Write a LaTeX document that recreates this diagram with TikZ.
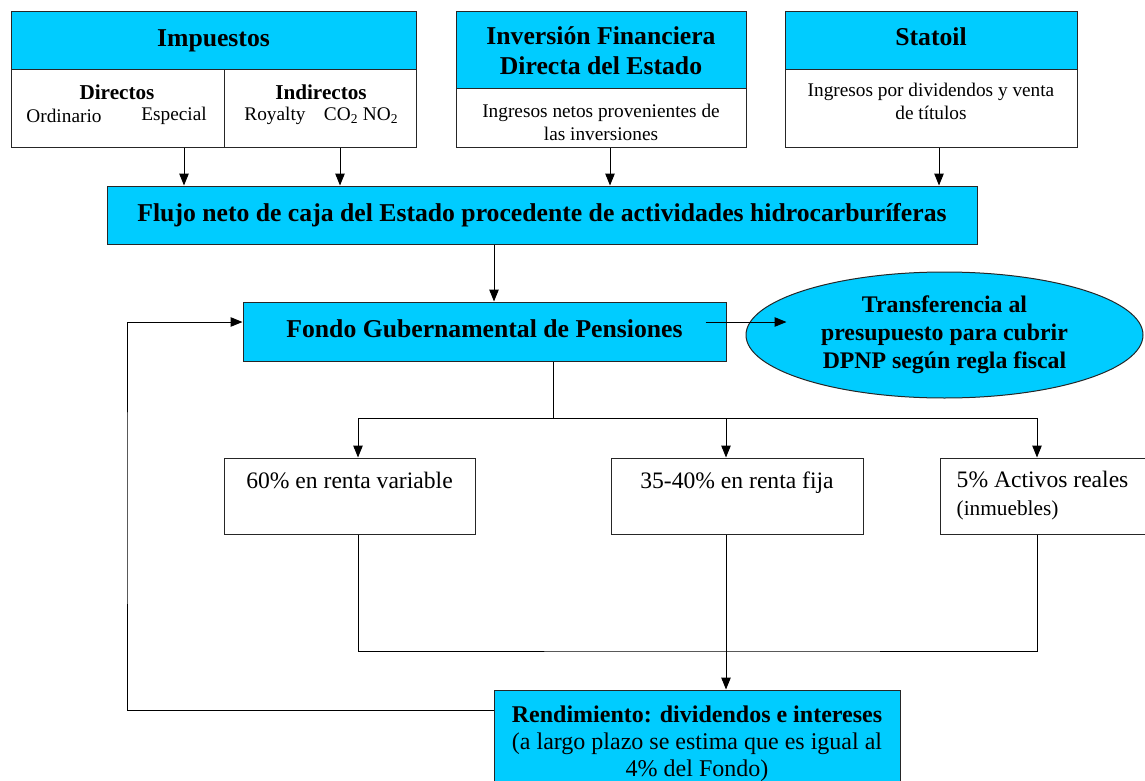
\documentclass[tikz,border=0pt]{standalone}
\usepackage{fontspec}
\setmainfont{Liberation Serif}
\usetikzlibrary{arrows.meta,shapes.geometric}
\definecolor{cajaazul}{RGB}{0,204,255}

\begin{document}
\begin{tikzpicture}[x=1pt,y=-1pt,
    caja/.style={draw=black!85, line width=1pt, inner sep=0pt, align=center},
    azul/.style={caja, fill=cajaazul},
    titulo/.style={font=\fontsize{25.7}{30}\selectfont\bfseries},
    elipse/.style={font=\fontsize{23.8}{28}\selectfont\bfseries},
    texto/.style={font=\fontsize{19.3}{23}\selectfont},
    textob/.style={font=\fontsize{21.2}{24}\selectfont\bfseries},
    medio/.style={font=\fontsize{23.6}{27}\selectfont},
    flecha/.style={-{Triangle[length=12pt,width=9.5pt]}, line width=1pt},
    linea/.style={line width=1pt}]
    \useasboundingbox (0,0) rectangle (1145,781);

    %%%%% fuentes %%%%%
    \node[azul, titulo, minimum width=405, minimum height=58] (imp) at (213.5,41) {Impuestos};
    \node[caja, minimum width=213, minimum height=77] (dir) at (117.5,108.5) {};
    \node[caja, minimum width=192, minimum height=77] (ind) at (320,108.5) {};
    \node[textob] (dirt) at (117,92) {Directos};
    \node[texto] (ord) at (64,116) {Ordinario};
    \node[texto] (esp) at (174,116) {Especial};
    \node[textob] (indt) at (321,92) {Indirectos};
    \node[texto] (roy) at (275,116) {Royalty};
    \node[texto] (co) at (361,116) {CO\textsubscript{2} NO\textsubscript{2}};

    \node[azul, titulo, minimum width=290, minimum height=77] (inv) at (601,50.5) {Inversión Financiera\\Directa del Estado};
    \node[caja, minimum width=290, minimum height=58] (invb) at (601,118) {};
    \node[texto, align=center] (invt) at (601,122) {Ingresos netos provenientes de\\las inversiones};

    \node[azul, titulo, minimum width=292, minimum height=58, text depth=8pt] (sta) at (931,41) {Statoil};
    \node[caja, texto, minimum width=292, minimum height=77, text depth=14pt] (stab) at (931,108.5) {Ingresos por dividendos y venta\\de títulos};

    %%%%% flujo y fondo %%%%%
    \node[azul, titulo, minimum width=870, minimum height=58] (flujo) at (542,215) {Flujo neto de caja del Estado procedente de actividades hidrocarburíferas};
    \node[azul, titulo, minimum width=483, minimum height=59] (fondo) at (484.5,331.5) {\raisebox{5pt}{Fondo Gubernamental de Pensiones}};
    \node[ellipse, azul, elipse, minimum width=397, minimum height=126] (transf) at (944.5,335) {Transferencia al\\presupuesto para cubrir\\DPNP según regla fiscal};

    \draw[flecha] ([xshift=66.5]dir.south) -- ([xshift=-358]flujo.north);
    \draw[flecha] ([xshift=20]ind.south) -- ([xshift=-202]flujo.north);
    \draw[flecha] ([xshift=9]invb.south) -- ([xshift=68]flujo.north);
    \draw[flecha] ([xshift=8]stab.south) -- ([xshift=397]flujo.north);
    \draw[flecha] ([xshift=-48]flujo.south) -- ([xshift=9.5]fondo.north);
    \draw[flecha] ([xshift=-21,yshift=9.5]fondo.east) -- ([xshift=41,yshift=13]transf.west);

    %%%%% cartera %%%%%
    \node[caja, minimum width=251, minimum height=76] (rv) at (349.5,496) {};
    \node[caja, minimum width=252, minimum height=76] (rf) at (737,496) {};
    \node[caja, minimum width=206, minimum height=76] (ar) at (1043,496) {};
    \node[medio, below=11pt] (rvt) at (rv.north) {60\% en renta variable};
    \node[medio, below=11pt] (rft) at (rf.north) {35-40\% en renta fija};
    \node[medio, anchor=north west, align=left, inner sep=0pt] (art) at ([xshift=17,yshift=-13]ar.north west) {5\% Activos reales\\[1pt]{\fontsize{21.3}{24}\selectfont (inmuebles)}};

    \coordinate (split) at (553,418);
    \draw[linea] ([xshift=68.5]fondo.south) -- (split);
    \draw[flecha] (split) -| ([xshift=8.5]rv.north);
    \draw[flecha] (split) -| ([xshift=-11]rf.north);
    \draw[flecha] (split) -| ([xshift=-6]ar.north);

    %%%%% rendimiento %%%%%
    \node[azul, medio, font=\fontsize{24}{27}\selectfont, minimum width=406, minimum height=108] (rend) at (697,744) {\textbf{Rendimiento: dividendos e intereses}\\(a largo plazo se estima que es igual al\\4\% del Fondo)};

    \coordinate (junta) at (726,651);
    \draw[linea] ([xshift=8.5]rv.south) |- (junta) -| ([xshift=-6]ar.south);
    \draw[flecha] ([xshift=-11]rf.south) -- ([xshift=29]rend.north);

    \coordinate (vuelta) at (127,500);
    \draw[flecha] ([yshift=34]rend.west) -| (vuelta) |- ([yshift=9.5]fondo.west);
\end{tikzpicture}
\end{document}
